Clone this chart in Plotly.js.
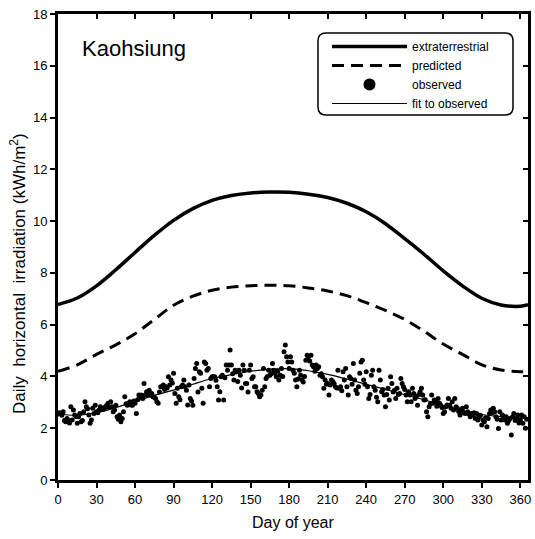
<!DOCTYPE html>
<html>
<head>
<meta charset="utf-8">
<script src="https://cdn.plot.ly/plotly-3.0.1.min.js"></script>
<style>html,body{margin:0;padding:0;background:#fff;}#chart{width:535px;height:539px;}</style>
</head>
<body>
<div id="chart"></div>
<script>
// ---- data ----
var curveDays = [0,15,30,45,60,75,90,105,120,135,150,165,180,195,210,225,240,255,270,285,300,315,330,345,360,366];
var extraterrestrial = [6.78,7.03,7.5,8.12,8.79,9.45,10.03,10.48,10.8,10.99,11.09,11.12,11.11,11.04,10.91,10.69,10.36,9.9,9.32,8.72,8.08,7.5,7.02,6.76,6.71,6.77];
var predicted = [4.2,4.45,4.85,5.22,5.65,6.2,6.75,7.1,7.33,7.45,7.5,7.52,7.5,7.42,7.3,7.12,6.85,6.55,6.2,5.75,5.25,4.85,4.45,4.25,4.18,4.2];
var fitObserved = [2.55,2.5,2.6,2.8,3.03,3.27,3.47,3.7,3.92,4.07,4.2,4.28,4.3,4.22,4.08,3.9,3.7,3.5,3.3,3.1,2.88,2.68,2.53,2.45,2.4,2.4];

var observedFirstDay = 0;
var observed = [
2.55,2.6,2.57,2.5,2.64,2.3,2.25,2.38,2.3,2.2,
2.83,2.32,2.7,2.51,2.45,2.19,2.44,2.57,2.25,2.3,
2.64,3.02,2.83,2.75,2.51,2.19,2.32,2.77,2.57,2.89,
2.64,2.6,2.7,2.83,2.77,2.72,2.77,2.83,2.89,2.96,
2.8,3.02,2.83,2.64,2.7,2.89,2.44,2.35,2.51,2.25,
2.38,2.64,3.22,2.95,2.89,2.96,3.02,2.9,2.89,3.05,
2.96,2.57,3.1,3.28,3.22,3.28,3.15,3.73,3.28,3.41,
3.3,3.47,3.28,3.34,3.22,3.2,3.15,3.02,2.96,3.4,
3.6,3.6,3.67,3.5,3.6,3.55,3.99,3.67,3.86,3.75,
4.12,3.34,2.96,3.54,3.22,3.1,3.6,3.67,3.86,3.6,
3.47,2.9,3.67,3.15,3.05,2.89,3.92,4.31,4.5,3.4,
4.18,4.12,3.54,2.96,4.56,4.5,4.24,4.31,3.6,3.92,
3.99,3.99,3.99,3.85,3.6,3.09,3.41,3.99,4.05,3.09,
3.95,4.44,4.24,4.44,5.02,4.44,4.1,3.86,4.24,4.18,
3.8,4.24,4.05,3.55,4.44,4.24,3.73,3.73,3.4,4.24,
4.44,3.92,3.99,3.6,3.6,3.41,3.34,3.22,3.28,3.47,
4.31,3.6,3.92,4.0,4.24,4.05,4.1,4.5,4.24,4.12,
3.99,4.2,3.86,4.05,4.31,4.0,4.95,5.21,4.76,4.56,
4.31,4.76,4.56,4.24,4.12,3.86,3.6,3.9,4.24,4.05,
3.86,3.79,4.0,4.63,4.82,4.76,4.6,4.82,4.44,4.37,
4.2,4.44,4.31,4.37,4.05,4.1,3.99,3.54,3.86,3.7,
3.73,3.28,3.67,3.86,3.8,3.73,3.6,3.55,4.24,3.54,
3.6,3.45,4.18,3.86,4.31,3.6,3.28,3.99,3.92,3.7,
4.5,3.86,3.47,3.34,3.6,4.12,4.56,4.63,3.86,3.7,
4.18,3.6,3.15,3.3,4.05,4.24,3.6,3.47,3.2,3.02,
4.24,3.86,3.41,3.5,3.28,2.83,3.3,3.54,3.09,3.99,
3.73,3.4,3.47,3.15,3.54,3.3,3.34,3.92,3.73,3.6,
3.5,3.28,3.02,3.41,3.28,3.02,3.54,3.34,3.15,3.22,
2.89,3.3,3.41,3.54,3.28,3.09,3.1,2.64,2.44,2.83,
2.95,3.28,2.96,3.09,3.02,2.85,3.15,2.96,2.89,2.8,
2.57,2.64,2.83,2.9,3.15,2.89,2.77,3.02,2.7,3.15,
2.83,2.77,2.65,2.51,2.7,2.77,2.6,2.57,2.83,2.64,
2.55,2.44,2.57,2.51,2.6,2.38,2.57,2.32,2.44,2.5,
2.12,2.32,2.25,2.4,2.06,2.38,2.57,2.7,2.6,2.77,
2.64,2.44,2.35,1.99,2.64,2.32,2.51,2.45,2.32,2.44,
2.19,2.3,2.38,1.74,2.44,2.57,2.3,2.38,2.51,2.2,
2.32,2.51,2.19,2.44,2.0,2.35
];
var observedDays = observed.map(function(v, i){ return observedFirstDay + i; });

var xTicks = [0,30,60,90,120,150,180,210,240,270,300,330,360];
var yTicks = [0,2,4,6,8,10,12,14,16,18];

var FONT = 'Liberation Sans, Arial, sans-serif';

var traces = [
  {x: curveDays, y: extraterrestrial, name: 'extraterrestrial', mode: 'lines',
   line: {color: '#000', width: 3.5, shape: 'spline', smoothing: 1}},
  {x: curveDays, y: predicted, name: 'predicted', mode: 'lines',
   line: {color: '#000', width: 3, dash: '12px,7px', shape: 'spline', smoothing: 1}},
  {x: observedDays, y: observed, name: 'observed', mode: 'markers',
   marker: {color: '#000', size: 5}},
  {x: curveDays, y: fitObserved, name: 'fit to observed', mode: 'lines',
   line: {color: '#000', width: 1.2, shape: 'spline', smoothing: 1}},
  {x: [null], y: [null], xaxis: 'x2', yaxis: 'y2', mode: 'markers', showlegend: false, hoverinfo: 'skip'}
];

function px2paperX(p){ return (p - 58) / 470; }
function px2paperY(p){ return (480 - p) / 466; }

// rounded legend frame
var bx0 = px2paperX(318), bx1 = px2paperX(513), by0 = px2paperY(115), by1 = px2paperY(33);
var rx = 8/470, ry = 8/466;
var framePath = 'M' + (bx0+rx) + ',' + by1 +
  ' L' + (bx1-rx) + ',' + by1 + ' Q' + bx1 + ',' + by1 + ' ' + bx1 + ',' + (by1-ry) +
  ' L' + bx1 + ',' + (by0+ry) + ' Q' + bx1 + ',' + by0 + ' ' + (bx1-rx) + ',' + by0 +
  ' L' + (bx0+rx) + ',' + by0 + ' Q' + bx0 + ',' + by0 + ' ' + bx0 + ',' + (by0+ry) +
  ' L' + bx0 + ',' + (by1-ry) + ' Q' + bx0 + ',' + by1 + ' ' + (bx0+rx) + ',' + by1 + ' Z';

var axisCommon = {
  showline: true, linecolor: '#000', linewidth: 3, mirror: false,
  zeroline: false, showgrid: false, ticklen: 5, tickwidth: 2, tickcolor: '#000',
  tickfont: {family: FONT, size: 13, color: '#000'}, fixedrange: true
};

var layout = {
  width: 535, height: 539,
  margin: {l: 58, r: 7, t: 14, b: 59, pad: 0},
  paper_bgcolor: '#fff', plot_bgcolor: '#fff',
  font: {family: FONT, color: '#000'},
  showlegend: true,
  xaxis: Object.assign({}, axisCommon, {range: [0, 366], tickvals: xTicks, ticks: 'outside'}),
  yaxis: Object.assign({}, axisCommon, {range: [0, 18], tickvals: yTicks, ticks: 'outside'}),
  xaxis2: Object.assign({}, axisCommon, {range: [0, 366], tickvals: xTicks, ticks: 'inside', overlaying: 'x', side: 'top', showticklabels: false}),
  yaxis2: Object.assign({}, axisCommon, {range: [0, 18], tickvals: yTicks, ticks: 'inside', overlaying: 'y', side: 'right', showticklabels: false}),
  legend: {x: px2paperX(327), y: px2paperY(32), xanchor: 'left', yanchor: 'top',
           bgcolor: 'rgba(0,0,0,0)', borderwidth: 0, itemwidth: 75, itemsizing: 'trace',
           tracegroupgap: 0, font: {family: FONT, size: 12, color: '#000'}},
  shapes: [{type: 'path', xref: 'paper', yref: 'paper', path: framePath,
            line: {color: '#000', width: 1.5}, fillcolor: 'rgba(0,0,0,0)'}],
  annotations: [
    {text: 'Kaohsiung', xref: 'paper', yref: 'paper', x: px2paperX(80), y: px2paperY(48),
     xanchor: 'left', yanchor: 'middle', showarrow: false, font: {family: FONT, size: 22, color: '#000'}},
    {text: 'Daily&nbsp; horizontal&nbsp; irradiation (kWh/m<sup>2</sup>)', xref: 'paper', yref: 'paper',
     x: px2paperX(18), y: px2paperY(274), xanchor: 'center', yanchor: 'middle', textangle: -90,
     showarrow: false, font: {family: FONT, size: 17, color: '#000'}},
    {text: 'Day of year', xref: 'paper', yref: 'paper', x: px2paperX(293), y: px2paperY(522),
     xanchor: 'center', yanchor: 'middle', showarrow: false, font: {family: FONT, size: 16, color: '#000'}}
  ]
};

var gd = document.getElementById('chart');
Plotly.newPlot(gd, traces, layout, {displayModeBar: false, staticPlot: true}).then(function(){
  // enlarge the legend symbol of the observed points (large dot as in the reference legend)
  var pts = gd.querySelectorAll('.legend path.scatterpts');
  pts.forEach(function(p){ p.setAttribute('d', 'M6,0A6,6 0 1,1 0,-6A6,6 0 0,1 6,0Z'); });
});
</script>
</body>
</html>
